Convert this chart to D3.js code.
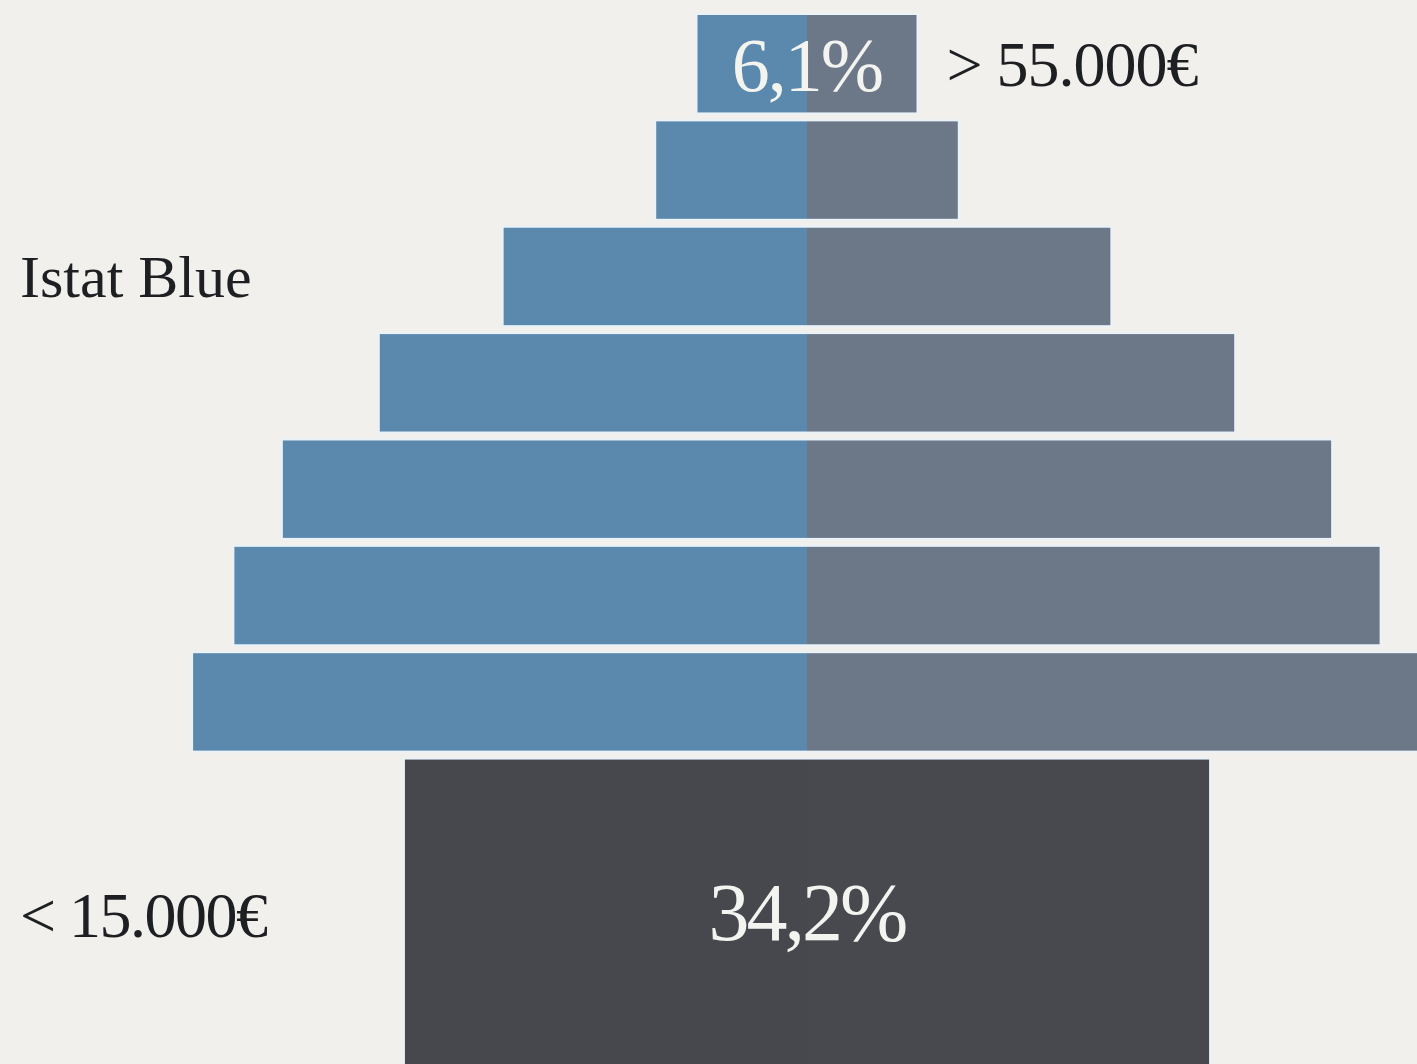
<!DOCTYPE html>
<html>
<head>
<meta charset="utf-8">
<script src="https://cdn.jsdelivr.net/npm/d3@7"></script>
<style>
  html, body { margin: 0; padding: 0; background: #f1f0ec; overflow: hidden; }
  svg { display: block; }
  text { font-family: "Liberation Serif", "DejaVu Serif", serif; }
</style>
</head>
<body>
<div id="chart"></div>
<script>
// income brackets, top to bottom (only the extremes are labelled in the picture)
var brackets = ["> 55.000€", "b2", "b3", "b4", "b5", "b6", "b7", "< 15.000€"];
var sideLabels = ["> 55.000€", "", "", "", "", "", "", "< 15.000€"];
// bar size, in percent
var shares = [6.1, 8.4, 16.9, 23.8, 29.2, 31.9, 34.2, 22.4];
var valueLabels = ["6,1%", "", "", "", "", "", "", "34,2%"];
var seriesName = "Istat Blue";

var width = 1417;
var height = 1064;
var cx = 807;

var svg = d3.select("#chart").append("svg")
    .attr("width", width)
    .attr("height", height);

// half bar width from share
var half = d3.scaleLinear()
    .domain([0, 10])
    .range([0, 179.5]);

var y = d3.scaleBand()
    .domain(brackets)
    .range([15, 857])
    .paddingInner(0.084)
    .paddingOuter(0);

var last = brackets[brackets.length - 1];

function barHeight(d) {
    if (d == last) {
        return height - y(d) + 20;
    }
    return y.bandwidth();
}

var rows = svg.selectAll("g.row")
    .data(brackets)
    .enter()
    .append("g")
    .attr("class", "row");

// soft light edge round each bar
rows.append("rect")
    .attr("x", function (d, i) { return cx - half(shares[i]) - 2; })
    .attr("y", function (d) { return y(d) - 2; })
    .attr("width", function (d, i) { return 2 * half(shares[i]) + 4; })
    .attr("height", function (d) { return barHeight(d) + 4; })
    .attr("fill", "#e9f3f9");

// left half
rows.append("rect")
    .attr("x", function (d, i) { return cx - half(shares[i]); })
    .attr("y", function (d) { return y(d); })
    .attr("width", function (d, i) { return half(shares[i]); })
    .attr("height", barHeight)
    .attr("fill", function (d) { return d == last ? "#46484e" : "#5a89ad"; });

// right half
rows.append("rect")
    .attr("x", cx)
    .attr("y", function (d) { return y(d); })
    .attr("width", function (d, i) { return half(shares[i]); })
    .attr("height", barHeight)
    .attr("fill", function (d) { return d == last ? "#48494f" : "#6c7787"; });

// value labels
svg.append("text")
    .attr("x", cx)
    .attr("y", y(brackets[0]) + 76)
    .attr("text-anchor", "middle")
    .attr("font-size", 76)
    .attr("letter-spacing", -2)
    .attr("fill", "#f3f3f0")
    .text(valueLabels[0]);

svg.append("text")
    .attr("x", cx)
    .attr("y", 940)
    .attr("text-anchor", "middle")
    .attr("font-size", 82)
    .attr("letter-spacing", -3)
    .attr("fill", "#f3f3f0")
    .text(valueLabels[valueLabels.length - 1]);

// bracket labels
svg.append("text")
    .attr("x", cx + half(shares[0]) + 30)
    .attr("y", y(brackets[0]) + 71)
    .attr("font-size", 64)
    .attr("letter-spacing", -1)
    .attr("fill", "#1e1f22")
    .text(sideLabels[0]);

svg.append("text")
    .attr("x", 20)
    .attr("y", 937)
    .attr("font-size", 64)
    .attr("letter-spacing", -1.5)
    .attr("fill", "#1e1f22")
    .text(sideLabels[sideLabels.length - 1]);

// series name
svg.append("text")
    .attr("x", 20)
    .attr("y", 297)
    .attr("font-size", 60)
    .attr("fill", "#1e1f22")
    .text(seriesName);
</script>
</body>
</html>
